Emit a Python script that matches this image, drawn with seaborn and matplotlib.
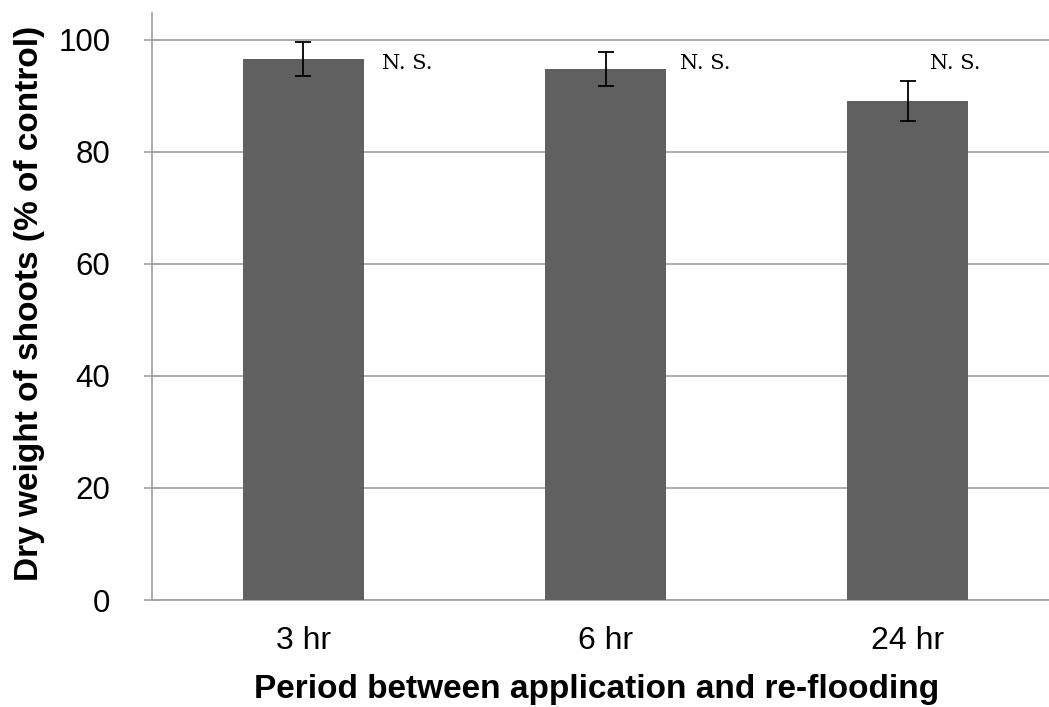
import matplotlib
matplotlib.use("Agg")
import matplotlib.pyplot as plt
import seaborn as sns
import pandas as pd

categories = ["3 hr", "6 hr", "24 hr"]
values = [96.6, 94.8, 89.1]
errors = [3.0, 3.0, 3.6]
annotations = ["N. S.", "N. S.", "N. S."]

sns.set_theme(style="white")
plt.rcParams['font.family'] = ['Liberation Sans', 'DejaVu Sans']
plt.rcParams['text.color'] = 'black'
plt.rcParams['axes.labelcolor'] = 'black'

df = pd.DataFrame({"period": categories, "value": values})

fig = plt.figure(figsize=(10.49, 7.07), dpi=100)
ax = fig.add_axes([152/1049, 107/707, (1059-152)/1049, (600-13)/707])

sns.barplot(data=df, x="period", y="value", order=categories, color="#606060",
            saturation=1, width=0.4, errorbar=None, ax=ax, zorder=3)
for p in ax.patches:
    p.set_edgecolor("none")

ax.errorbar(range(len(categories)), values, yerr=errors, fmt="none",
            ecolor="black", elinewidth=1.3, capsize=6, capthick=1.3, zorder=4)

grid_c = "#a6a6a6"
ax.set_ylim(0, 104.8)
ax.set_xlim(-0.5, 2.5)
ax.set_yticks([0, 20, 40, 60, 80, 100])
ax.set_yticklabels(["0", "20", "40", "60", "80", "100"], fontsize=22.5)
ax.yaxis.grid(True, color=grid_c, linewidth=1.3, zorder=0)
ax.set_axisbelow(True)

ax.set_xticks([-0.5, 0.5, 1.5, 2.5])
ax.set_xticklabels([])
ax.set_xticks([0, 1, 2], minor=True)
ax.set_xticklabels(categories, minor=True, fontsize=23)
ax.tick_params(axis="x", which="major", direction="out", length=8, width=1.3, color=grid_c)
ax.tick_params(axis="x", which="minor", length=0, pad=19, labelcolor="black")
ax.tick_params(axis="y", direction="inout", length=12, width=1.3, color=grid_c,
               pad=24, left=True, labelcolor="black")

for s in ["top", "right"]:
    ax.spines[s].set_visible(False)
for s in ["left", "bottom"]:
    ax.spines[s].set_color(grid_c)
    ax.spines[s].set_linewidth(1.3)

ax.set_xlabel("Period between application and re-flooding", fontsize=24,
              fontweight="bold")
ax.set_ylabel("Dry weight of shoots (% of control)", fontsize=24,
              fontweight="bold")
ax.xaxis.set_label_coords(0.49, -0.1265)
ax.yaxis.set_label_coords(-0.1175, 0.505)

ns_x = [0.262, 1.248, 2.073]
for xi, t in zip(ns_x, annotations):
    ax.text(xi, 94.8, t, fontsize=15, family=["DejaVu Serif"],
            ha="left", va="baseline", zorder=5)

fig.savefig("out.png", dpi=100)
